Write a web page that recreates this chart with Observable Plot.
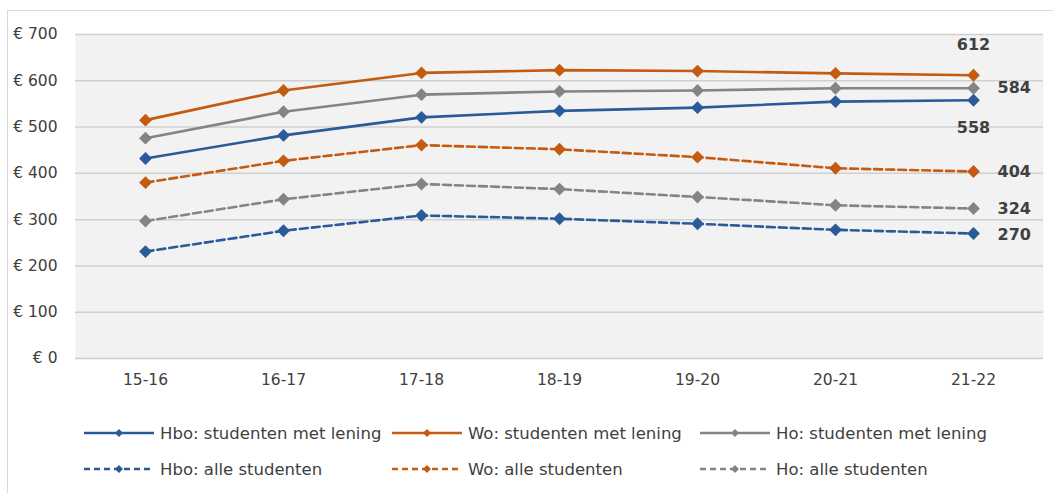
<!DOCTYPE html>
<html>
<head>
<meta charset="utf-8">
<script src="https://cdn.jsdelivr.net/npm/d3@7"></script>
<script src="https://cdn.jsdelivr.net/npm/@observablehq/plot@0.6"></script>
<style>
  html, body { margin:0; padding:0; background:#fff; }
  body { width:1053px; height:493px; position:relative; overflow:hidden; font-family:"DejaVu Sans", sans-serif; }
  #frame { position:absolute; left:7px; top:10px; width:1060px; height:500px; border:1px solid #d9d9d9; box-sizing:border-box; pointer-events:none; }
  #chart { position:absolute; left:0; top:0; }
  #legend { position:absolute; left:84px; top:421px; display:grid; grid-template-columns:308px 308px 308px; row-gap:12px; }
  .item { display:flex; align-items:center; height:24px; font-size:16.5px; color:#404040; white-space:nowrap; }
  .item svg { margin-right:6px; }
</style>
</head>
<body>
<div id="chart"></div>
<div id="legend"></div>
<div id="frame"></div>
<script>
const years = ["15-16","16-17","17-18","18-19","19-20","20-21","21-22"];
const hboLening = [432, 482, 521, 535, 542, 555, 558];
const woLening  = [515, 579, 617, 623, 621, 616, 612];
const hoLening  = [476, 533, 570, 577, 579, 584, 584];
const hboAlle   = [231, 276, 309, 302, 291, 278, 270];
const woAlle    = [380, 427, 461, 452, 435, 411, 404];
const hoAlle    = [297, 344, 377, 366, 349, 331, 324];
const yTicks = [0,100,200,300,400,500,600,700];
const seriesNames = ["Hbo: studenten met lening","Wo: studenten met lening","Ho: studenten met lening","Hbo: alle studenten","Wo: alle studenten","Ho: alle studenten"];

const BLUE = "#2a5b98", ORANGE = "#c55a11", GRAY = "#848484";
const series = [
  {name:seriesNames[0], values:hboLening, color:BLUE,   dash:null},
  {name:seriesNames[1], values:woLening,  color:ORANGE, dash:null},
  {name:seriesNames[2], values:hoLening,  color:GRAY,   dash:null},
  {name:seriesNames[3], values:hboAlle,   color:BLUE,   dash:"8,4"},
  {name:seriesNames[4], values:woAlle,    color:ORANGE, dash:"8,4"},
  {name:seriesNames[5], values:hoAlle,    color:GRAY,   dash:"8,4"}
];
const rows = s => years.map((y,i) => ({serie:s.name, year:y, value:s.values[i]}));
const last = s => [{year:years[years.length-1], value:s.values[s.values.length-1]}];

const marks = [
  Plot.frame({fill:"#f2f2f2", stroke:null}),
  Plot.ruleY(yTicks, {stroke:"#d0d0d0", strokeWidth:1.5})
];
for (const s of series) {
  marks.push(Plot.line(rows(s), {x:"year", y:"value", stroke:s.color, strokeWidth:2.6, strokeDasharray:s.dash ?? undefined}));
  marks.push(Plot.dot(rows(s), {x:"year", y:"value", symbol:"diamond2", r:5.8, fill:s.color, stroke:null}));
}
const labelStyle = {x:"year", y:"value", text:d=>String(d.value), fill:"#404040", fontWeight:"bold", fontSize:16};
marks.push(Plot.text(last(series[1]), {...labelStyle, dy:-30}));
marks.push(Plot.text(last(series[0]), {...labelStyle, dy:28}));
for (const s of [series[2], series[4], series[5], series[3]]) {
  marks.push(Plot.text(last(s), {...labelStyle, dx:24, textAnchor:"start", dy:s===series[3]?1:0}));
}

const chart = Plot.plot({
  width:1053, height:395,
  marginLeft:75, marginRight:10, marginTop:34, marginBottom:37,
  x:{type:"point", domain:years, padding:0.5, label:null, tickSize:0, tickPadding:15},
  y:{domain:[0,700], ticks:yTicks, tickFormat:d=>"€ "+d, label:null, tickSize:0, tickPadding:18},
  style:{fontFamily:"DejaVu Sans", fontSize:"15.5px", color:"#404040", background:"transparent", overflow:"visible"},
  marks
});
document.getElementById("chart").appendChild(chart);

const legend = document.getElementById("legend");
for (const s of series) {
  const item = document.createElement("div");
  item.className = "item";
  const ns = "http://www.w3.org/2000/svg";
  const svg = document.createElementNS(ns, "svg");
  svg.setAttribute("width", 70); svg.setAttribute("height", 12);
  const ln = document.createElementNS(ns, "line");
  ln.setAttribute("x1", 0); ln.setAttribute("x2", 70); ln.setAttribute("y1", 6); ln.setAttribute("y2", 6);
  ln.setAttribute("stroke", s.color); ln.setAttribute("stroke-width", 2.6);
  if (s.dash) ln.setAttribute("stroke-dasharray", "6,4");
  const dm = document.createElementNS(ns, "path");
  dm.setAttribute("d", "M35,2 L39,6 L35,10 L31,6 Z");
  dm.setAttribute("fill", s.color);
  svg.appendChild(ln); svg.appendChild(dm);
  item.appendChild(svg);
  const t = document.createElement("span"); t.textContent = s.name;
  item.appendChild(t);
  legend.appendChild(item);
}
</script>
</body>
</html>
